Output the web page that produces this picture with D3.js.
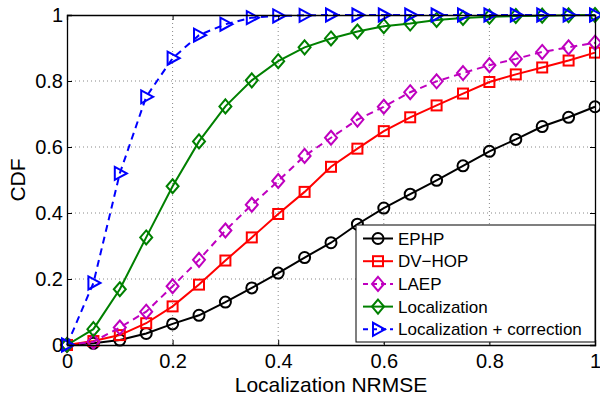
<!DOCTYPE html>
<html>
<head>
<meta charset="utf-8">
<script src="https://cdn.jsdelivr.net/npm/d3@7"></script>
<style>
  body { margin: 0; background: #fff; }
  text { font-family: "Liberation Sans", Arial, sans-serif; }
</style>
</head>
<body>
<svg id="chart" width="600" height="394"></svg>
<script>
// x positions shared by every series
const xs = d3.range(21).map(i => i * 0.05)

// CDF values
const ephp = [0, 0.005, 0.015, 0.035, 0.064, 0.09, 0.13, 0.173, 0.218, 0.265, 0.31, 0.366, 0.415, 0.457, 0.499, 0.543, 0.587, 0.623, 0.662, 0.69, 0.722]
const dvhop = [0, 0.012, 0.03, 0.066, 0.117, 0.183, 0.256, 0.326, 0.397, 0.464, 0.54, 0.595, 0.648, 0.69, 0.726, 0.762, 0.797, 0.82, 0.841, 0.862, 0.886]
const laep = [0, 0.01, 0.053, 0.101, 0.178, 0.258, 0.347, 0.425, 0.497, 0.573, 0.628, 0.683, 0.722, 0.766, 0.799, 0.824, 0.848, 0.867, 0.888, 0.902, 0.916]
const loc = [0, 0.048, 0.169, 0.326, 0.481, 0.617, 0.723, 0.802, 0.86, 0.902, 0.929, 0.95, 0.966, 0.974, 0.985, 0.991, 0.995, 0.997, 0.998, 0.999, 1]
const locCorr = [0, 0.188, 0.52, 0.752, 0.869, 0.939, 0.972, 0.992, 0.997, 0.999, 1, 1, 1, 1, 1, 1, 1, 1, 1, 1, 1]

const seriesNames = ["EPHP", "DV\u2212HOP", "LAEP", "Localization", "Localization + correction"]
const seriesValues = [ephp, dvhop, laep, loc, locCorr]
const colors = ["#000000", "#ff0000", "#bf00bf", "#008000", "#0000ff"]
const dashes = [null, null, "7,5", null, "7,5"]
const shapes = ["circle", "square", "diamond", "diamond", "triangle"]

const xTicks = [0, 0.2, 0.4, 0.6, 0.8, 1]
const yTicks = [0, 0.2, 0.4, 0.6, 0.8, 1]

const svg = d3.select("#chart")
const m = {left: 67, right: 595, top: 15, bottom: 345}
const x = d3.scaleLinear().domain([0, 1]).range([m.left, m.right])
const y = d3.scaleLinear().domain([0, 1]).range([m.bottom, m.top])

// dotted grid
svg.append("g").selectAll("line").data(xTicks.slice(1, -1)).enter().append("line")
  .attr("x1", d => x(d)).attr("x2", d => x(d)).attr("y1", m.top).attr("y2", m.bottom)
  .attr("stroke", "#888").attr("stroke-dasharray", "1,3")
svg.append("g").selectAll("line").data(yTicks.slice(1, -1)).enter().append("line")
  .attr("y1", d => y(d)).attr("y2", d => y(d)).attr("x1", m.left).attr("x2", m.right)
  .attr("stroke", "#888").attr("stroke-dasharray", "1,3")

// marker drawing
function marker(g, shape, color, cx, cy) {
  if (shape == "circle") {
    g.append("circle").attr("cx", cx).attr("cy", cy).attr("r", 5.5)
      .attr("fill", "none").attr("stroke", color).attr("stroke-width", 2)
  } else if (shape == "square") {
    g.append("rect").attr("x", cx - 5).attr("y", cy - 5).attr("width", 10).attr("height", 10)
      .attr("fill", "none").attr("stroke", color).attr("stroke-width", 2)
  } else if (shape == "diamond") {
    g.append("path").attr("d", `M${cx},${cy - 7}L${cx + 6},${cy}L${cx},${cy + 7}L${cx - 6},${cy}Z`)
      .attr("fill", "none").attr("stroke", color).attr("stroke-width", 2)
  } else {
    g.append("path").attr("d", `M${cx + 7},${cy}L${cx - 5},${cy - 6.5}L${cx - 5},${cy + 6.5}Z`)
      .attr("fill", "none").attr("stroke", color).attr("stroke-width", 2)
  }
}

const line = d3.line().x((d, i) => x(xs[i])).y(d => y(d))

seriesValues.forEach((vals, k) => {
  const g = svg.append("g")
  g.append("path").datum(vals).attr("d", line)
    .attr("fill", "none").attr("stroke", colors[k]).attr("stroke-width", 2)
    .attr("stroke-dasharray", dashes[k])
  vals.forEach((v, i) => marker(g, shapes[k], colors[k], x(xs[i]), y(v)))
})

// axes box with inward ticks (matlab style)
const xAxB = d3.axisBottom(x).tickValues(xTicks).tickSize(-5).tickPadding(9).tickFormat(d3.format("~g"))
const yAxL = d3.axisLeft(y).tickValues(yTicks).tickSize(-5).tickPadding(4).tickFormat(d3.format("~g"))
const xAxT = d3.axisTop(x).tickValues(xTicks).tickSize(-5).tickFormat("")
const yAxR = d3.axisRight(y).tickValues(yTicks).tickSize(-5).tickFormat("")

svg.append("g").attr("transform", `translate(0,${m.bottom})`).call(xAxB)
svg.append("g").attr("transform", `translate(${m.left},0)`).call(yAxL)
svg.append("g").attr("transform", `translate(0,${m.top})`).call(xAxT)
svg.append("g").attr("transform", `translate(${m.right},0)`).call(yAxR)
svg.selectAll(".domain").attr("stroke", "#000").attr("stroke-width", 1.3)
svg.selectAll(".tick line").attr("stroke", "#000")
svg.selectAll(".tick text").attr("font-size", 20).attr("fill", "#000")
  .style("font-family", "'Liberation Sans', Arial, sans-serif")

// axis labels
svg.append("text").attr("x", (m.left + m.right) / 2).attr("y", 391.5)
  .attr("text-anchor", "middle").attr("font-size", 21).text("Localization NRMSE")
svg.append("text").attr("transform", `translate(25,${(m.top + m.bottom) / 2}) rotate(-90)`)
  .attr("text-anchor", "middle").attr("font-size", 21).text("CDF")

// legend
const lg = svg.append("g")
lg.append("rect").attr("x", 356).attr("y", 225).attr("width", m.right - 356).attr("height", 117)
  .attr("fill", "#fff").attr("stroke", "#000").attr("stroke-width", 1)
seriesNames.forEach((name, k) => {
  const ly = 238.5 + k * 22.7
  lg.append("line").attr("x1", 363).attr("x2", 393).attr("y1", ly).attr("y2", ly)
    .attr("stroke", colors[k]).attr("stroke-width", 2).attr("stroke-dasharray", dashes[k] ? "5,4" : null)
  marker(lg, shapes[k], colors[k], 378, ly)
  lg.append("text").attr("x", 398).attr("y", ly + 6).attr("font-size", 17).text(name)
})
</script>
</body>
</html>
